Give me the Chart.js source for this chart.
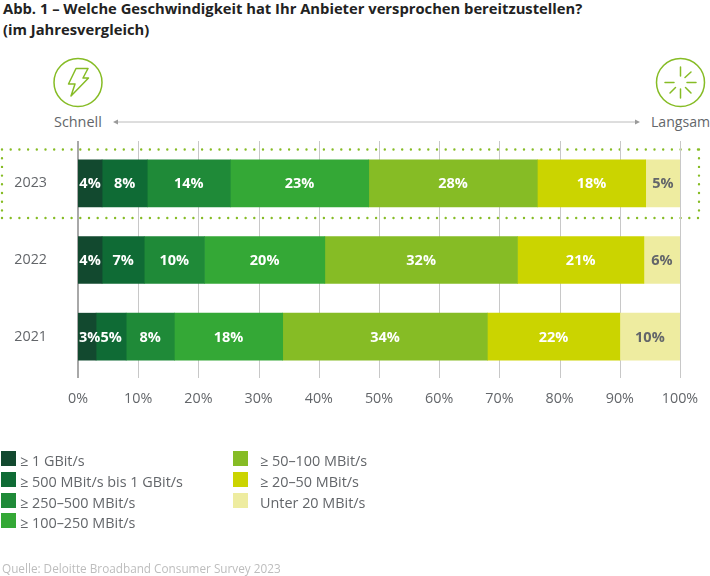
<!DOCTYPE html>
<html lang="de">
<head>
<meta charset="utf-8">
<title>Abb. 1</title>
<script src="https://cdn.jsdelivr.net/npm/chart.js@4"></script>
<style>
html,body{margin:0;padding:0;background:#fff}
body{width:710px;height:576px;position:relative;overflow:hidden;font-family:"Open Sans",sans-serif;color:#63666a}
#title{position:absolute;left:3px;top:-2px;font-size:14.75px;line-height:20.5px;font-weight:700;color:#222;white-space:nowrap}
#deco{position:absolute;left:0;top:0}
#chart{position:absolute;left:0;top:0}
.side{position:absolute;top:112px;font-size:14.4px;line-height:20px}
.item{position:absolute;font-size:14.4px;line-height:20px;white-space:nowrap}
.swatch{position:absolute;width:15px;height:15px}
#source{position:absolute;left:2px;top:560px;font-size:11.75px;line-height:17px;color:#bdbdbd;white-space:nowrap}
</style>
</head>
<body>
<div id="title">Abb. 1 – Welche Geschwindigkeit hat Ihr Anbieter versprochen bereitzustellen?<br>(im Jahresvergleich)</div>

<svg id="deco" width="710" height="576" fill="none">
<g stroke="#86bc25" stroke-width="2.4" stroke-linecap="round" stroke-dasharray="0 8.7">
<path d="M2 149.5H699M2 218H699M2 149.5V218M699 149.5V218"/>
</g>
<g stroke="#86bc25" stroke-width="1.5">
<circle cx="78" cy="82.5" r="24"/>
<path stroke-linejoin="round" d="M76 68.5H88L83 78H88.5L71 96L75 84H68.5Z"/>
<circle cx="680.5" cy="82.5" r="24"/>
<path stroke-linecap="round" d="M680.5 67V76M680.5 89V98M665 82.5H674M687 82.5H696M685 77.5L691 72M670 93L675.5 87.5M685.5 87.5L691 93"/>
</g>
<g stroke="#bcbcbc" stroke-width="1">
<path d="M116 122H636"/>
</g>
<path fill="#9a9a9a" d="M113 122L118 119.5V124.5ZM640 122L635 119.5V124.5Z"/>
</svg>

<div class="side" style="left:54px">Schnell</div>
<div class="side" style="left:651px;font-size:14.1px">Langsam</div>

<canvas id="chart" width="710" height="576"></canvas>

<div id="legend"></div>
<div id="source">Quelle: Deloitte Broadband Consumer Survey 2023</div>

<script>
const years = ["2023","2022","2021"]
const xTicks = [0,10,20,30,40,50,60,70,80,90,100]

const speedNames = ["≥ 1 GBit/s","≥ 500 MBit/s bis 1 GBit/s","≥ 250–500 MBit/s","≥ 100–250 MBit/s","≥ 50–100 MBit/s","≥ 20–50 MBit/s","Unter 20 MBit/s"]
const speedColors = ["#12492f","#0f6b35","#1f8a38","#34a836","#86bc25","#cbd400","#eeeca0"]

// bar lengths as measured (2023 does not quite match its printed numbers)
const gbit = [4,4,3]
const mbit500 = [7.5,7,5]
const mbit250 = [13.8,10,8]
const mbit100 = [23,20,18]
const mbit50 = [28,32,34]
const mbit20 = [18,21,22]
const under20 = [5.7,6,10]
const seriesValues = [gbit,mbit500,mbit250,mbit100,mbit50,mbit20,under20]

// printed numbers, same order as the series
const shown2023 = [4,8,14,23,28,18,5]
const shown2022 = [4,7,10,20,32,21,6]
const shown2021 = [3,5,8,18,34,22,10]
const shownValues = [shown2023,shown2022,shown2021]

const gridPlugin = {
id:"gridLines",
beforeDatasetsDraw(chart){
const ctx = chart.ctx
const x = chart.scales.x
const area = chart.chartArea
ctx.save()
xTicks.forEach(t=>{
const px = Math.round(x.getPixelForValue(t))
ctx.strokeStyle = t===0 ? "#a8a8a8" : "#c8c8c8"
ctx.lineWidth = t===0 ? 2 : 1
ctx.beginPath()
ctx.moveTo(t===0 ? px : px+0.5,area.top-4)
ctx.lineTo(t===0 ? px : px+0.5,area.bottom+3)
ctx.stroke()
})
ctx.restore()
}
}

const barLabelPlugin = {
id:"barLabels",
afterDatasetsDraw(chart){
const ctx = chart.ctx
ctx.save()
ctx.font = "700 14.5px 'Open Sans'"
ctx.textAlign = "center"
ctx.textBaseline = "middle"
chart.data.datasets.forEach((ds,i)=>{
chart.getDatasetMeta(i).data.forEach((bar,j)=>{
const text = shownValues[j][i]+"%"
const left = bar.base
const w = ctx.measureText(text).width
// narrow first segments push the text off the axis
const cx = Math.max((bar.x+bar.base)/2,left+w/2+1)
ctx.fillStyle = i===6 ? "#63666a" : "#fff"
ctx.fillText(text,cx,bar.y+1)
})
})
ctx.restore()
}
}

new Chart(document.getElementById("chart"),{
type:"bar",
data:{
labels:years,
datasets:speedNames.map((name,i)=>({
label:name,
data:seriesValues[i],
backgroundColor:speedColors[i],
borderWidth:0,
barThickness:47
}))
},
options:{
indexAxis:"y",
responsive:false,
animation:false,
layout:{padding:{top:145,right:30,bottom:0,left:0}},
plugins:{legend:{display:false},title:{display:false},tooltip:{enabled:false}},
scales:{
x:{
stacked:true,
min:0,
max:100,
afterBuildTicks(scale){ scale.ticks = xTicks.map(v=>({value:v})) },
afterFit(scale){ scale.height = 201 },
grid:{display:false},
border:{display:false},
ticks:{
color:"#63666a",
font:{family:"Open Sans",size:14.3},
padding:7,
maxRotation:0,
autoSkip:false,
callback:v=>v+"%"
}
},
y:{
stacked:true,
afterFit(scale){ scale.width = 78 },
grid:{display:false},
border:{display:false},
ticks:{
color:"#63666a",
font:{family:"Open Sans",size:14.3},
padding:23
}
}
}
},
plugins:[gridPlugin,barLabelPlugin]
})

const legend = document.getElementById("legend")
speedNames.forEach((name,i)=>{
const col2 = i>3
const row = col2 ? i-4 : i
const top = 451+row*20.8
const sw = document.createElement("div")
sw.className = "swatch"
sw.style.left = (col2 ? 233 : 1)+"px"
sw.style.top = top+"px"
sw.style.background = speedColors[i]
const txt = document.createElement("div")
txt.className = "item"
txt.style.left = (col2 ? 260 : 20)+"px"
txt.style.top = top+"px"
txt.textContent = name
legend.appendChild(sw)
legend.appendChild(txt)
})
</script>
</body>
</html>
